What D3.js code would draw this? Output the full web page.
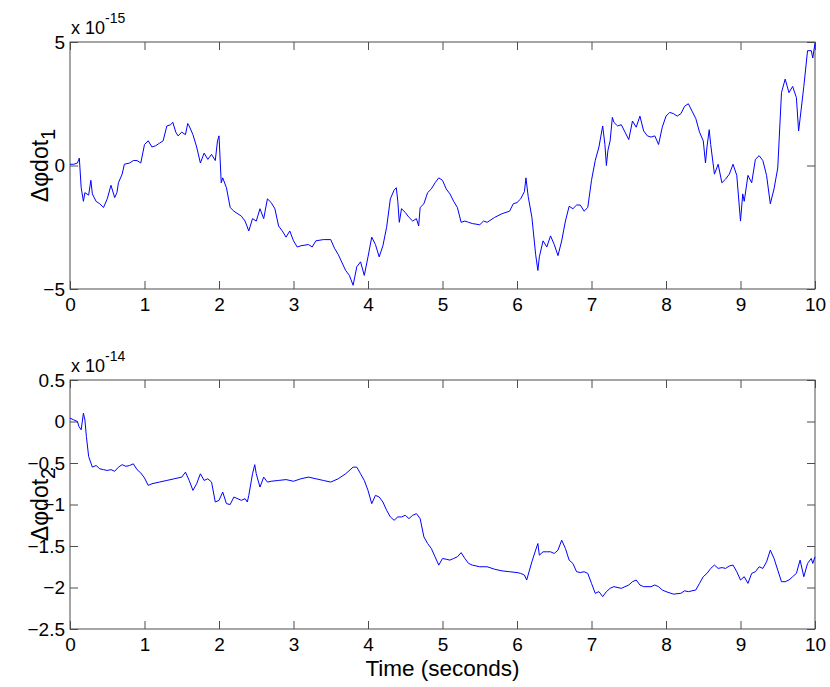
<!DOCTYPE html>
<html>
<head>
<meta charset="utf-8">
<script src="https://cdn.jsdelivr.net/npm/d3@7"></script>
<style>
  body { margin: 0; background: #fff; }
  svg { display: block; font-family: "Liberation Sans", Arial, sans-serif; }
</style>
</head>
<body>
<svg id="chart" width="830" height="687"></svg>
<script>
// time samples (seconds) and values, top panel in units of 1e-15
const time1 = [0, 0.05, 0.1, 0.125, 0.15, 0.18, 0.2, 0.25, 0.28, 0.3, 0.35, 0.4, 0.45, 0.5, 0.55, 0.6, 0.63, 0.65, 0.7, 0.73, 0.8, 0.85, 0.9, 0.95,
  1.0, 1.05, 1.1, 1.15, 1.2, 1.25, 1.3, 1.35, 1.38, 1.42, 1.45, 1.5, 1.55, 1.58, 1.6, 1.65, 1.7, 1.75, 1.8, 1.85, 1.9, 1.95, 1.98,
  2.0, 2.03, 2.05, 2.1, 2.15, 2.2, 2.3, 2.35, 2.4, 2.45, 2.5, 2.55, 2.6, 2.65, 2.7, 2.75, 2.8, 2.85, 2.9, 2.95,
  3.0, 3.05, 3.1, 3.2, 3.25, 3.3, 3.4, 3.5, 3.55, 3.6, 3.7, 3.75, 3.8, 3.85, 3.9, 3.95,
  4.0, 4.05, 4.1, 4.15, 4.2, 4.25, 4.3, 4.35, 4.38, 4.4, 4.42, 4.45, 4.5, 4.55, 4.6, 4.65, 4.68, 4.7, 4.75, 4.8, 4.85, 4.9, 4.95,
  5.0, 5.05, 5.1, 5.15, 5.2, 5.25, 5.3, 5.35, 5.4, 5.5, 5.55, 5.6, 5.7, 5.8, 5.9, 5.95,
  6.0, 6.05, 6.1, 6.12, 6.15, 6.2, 6.25, 6.28, 6.3, 6.35, 6.4, 6.45, 6.5, 6.55, 6.6, 6.65, 6.7, 6.75, 6.8, 6.85, 6.9, 6.95,
  7.0, 7.05, 7.1, 7.15, 7.18, 7.2, 7.22, 7.25, 7.28, 7.3, 7.35, 7.4, 7.45, 7.5, 7.55, 7.6, 7.65, 7.7, 7.75, 7.8, 7.85, 7.9, 7.95,
  8.0, 8.05, 8.1, 8.15, 8.2, 8.25, 8.3, 8.35, 8.4, 8.45, 8.5, 8.53, 8.55, 8.58, 8.6, 8.65, 8.7, 8.75, 8.8, 8.85, 8.9, 8.95,
  9.0, 9.03, 9.05, 9.1, 9.15, 9.2, 9.25, 9.3, 9.35, 9.4, 9.45, 9.5, 9.55, 9.6, 9.65, 9.7, 9.75, 9.78, 9.8, 9.85, 9.9, 9.95, 9.97, 10.0];
const dphi1 = [0.05, 0.05, 0.1, 0.3, -0.9, -1.45, -1.1, -1.2, -0.6, -1.15, -1.45, -1.55, -1.7, -1.35, -0.8, -1.3, -1.1, -0.7, -0.35, 0.05, 0.1, 0.2, 0.2, 0.1,
  0.85, 1.0, 0.75, 0.8, 0.9, 1.0, 1.6, 1.65, 1.75, 1.35, 1.2, 1.35, 1.25, 1.7, 1.6, 1.25, 0.75, 0.1, 0.5, 0.25, 0.45, 0.2, 1.0,
  1.2, -0.7, -0.5, -0.9, -1.7, -1.85, -2.05, -2.25, -2.65, -2.15, -2.25, -1.75, -2.15, -1.35, -1.5, -1.75, -2.45, -2.65, -2.9, -2.65,
  -3.05, -3.3, -3.25, -3.2, -3.3, -3.05, -3.0, -3.0, -3.35, -3.6, -4.25, -4.45, -4.85, -4.1, -3.9, -4.45,
  -3.7, -2.9, -3.2, -3.7, -3.25, -2.5, -1.35, -1.0, -0.9, -1.45, -2.3, -1.75, -1.9, -2.1, -2.25, -2.15, -2.45, -1.7, -1.55, -1.1, -0.95, -0.7, -0.5,
  -0.6, -0.95, -1.15, -1.45, -1.7, -2.3, -2.25, -2.3, -2.35, -2.4, -2.25, -2.3, -2.1, -1.95, -1.85, -1.55,
  -1.5, -1.35, -1.05, -0.5, -1.25, -2.1, -3.6, -4.25, -3.7, -3.05, -3.3, -2.85, -3.2, -3.65, -3.05, -2.25, -1.65, -1.75, -1.6, -1.6, -1.85, -1.7,
  -0.6, 0.2, 0.75, 1.6, 0.85, 0.0, 0.6, 1.0, 1.95, 1.75, 1.6, 1.65, 1.35, 1.05, 1.8, 1.55, 2.0, 1.4, 1.2, 1.15, 1.2, 0.85, 1.55,
  2.0, 2.15, 2.1, 2.0, 2.1, 2.4, 2.5, 2.2, 1.9, 1.35, 1.0, 0.1, 0.75, 1.45, 0.85, -0.35, 0.05, -0.7, -0.55, -0.35, 0.05, -0.4,
  -2.25, -1.15, -1.45, -0.4, -0.7, 0.25, 0.4, 0.2, -0.4, -1.55, -0.95, -0.1, 2.95, 3.5, 2.95, 3.2, 2.75, 1.4, 1.9, 3.2, 4.65, 4.65, 4.35, 4.95];

// bottom panel in units of 1e-14
const time2 = [0, 0.05, 0.1, 0.12, 0.15, 0.18, 0.2, 0.22, 0.25, 0.3, 0.35, 0.4, 0.45, 0.5, 0.55, 0.6, 0.65, 0.7, 0.75, 0.8, 0.85, 0.9, 0.95,
  1.0, 1.05, 1.1, 1.2, 1.3, 1.4, 1.5, 1.55, 1.6, 1.65, 1.7, 1.75, 1.8, 1.85, 1.9, 1.95,
  2.0, 2.05, 2.1, 2.15, 2.2, 2.3, 2.35, 2.38, 2.4, 2.45, 2.48, 2.5, 2.55, 2.6, 2.65, 2.7, 2.8, 2.9,
  3.0, 3.1, 3.2, 3.3, 3.4, 3.5, 3.6, 3.7, 3.8, 3.85, 3.9, 3.95,
  4.0, 4.05, 4.1, 4.15, 4.2, 4.25, 4.3, 4.35, 4.4, 4.45, 4.5, 4.55, 4.6, 4.65, 4.7, 4.75, 4.8, 4.85, 4.9, 4.95,
  5.0, 5.05, 5.1, 5.15, 5.2, 5.25, 5.3, 5.35, 5.4, 5.5, 5.6, 5.7, 5.8, 5.9,
  6.0, 6.05, 6.1, 6.13, 6.2, 6.25, 6.28, 6.3, 6.35, 6.4, 6.45, 6.5, 6.55, 6.6, 6.65, 6.7, 6.75, 6.8, 6.85, 6.9, 6.95,
  7.0, 7.05, 7.1, 7.15, 7.2, 7.25, 7.3, 7.4, 7.45, 7.5, 7.55, 7.6, 7.65, 7.7, 7.8, 7.85, 7.9, 7.95,
  8.0, 8.1, 8.2, 8.25, 8.3, 8.4, 8.45, 8.5, 8.55, 8.6, 8.65, 8.7, 8.75, 8.8, 8.85, 8.9, 8.95,
  9.0, 9.05, 9.1, 9.15, 9.2, 9.25, 9.3, 9.35, 9.4, 9.45, 9.5, 9.55, 9.6, 9.65, 9.7, 9.75, 9.8, 9.85, 9.9, 9.95, 9.97, 10.0];
const dphi2 = [0.04, 0.02, 0.0, -0.06, -0.1, 0.1, 0.02, -0.18, -0.42, -0.55, -0.53, -0.57, -0.58, -0.59, -0.58, -0.6, -0.55, -0.52, -0.54, -0.53, -0.51, -0.58, -0.62,
  -0.68, -0.77, -0.75, -0.73, -0.71, -0.69, -0.67, -0.61, -0.71, -0.83, -0.75, -0.63, -0.71, -0.69, -0.73, -0.97,
  -0.95, -0.85, -0.99, -1.0, -0.91, -0.95, -0.93, -0.97, -0.89, -0.63, -0.52, -0.63, -0.79, -0.67, -0.73, -0.72, -0.71, -0.7,
  -0.72, -0.69, -0.67, -0.69, -0.71, -0.73, -0.69, -0.63, -0.55, -0.55, -0.63, -0.71,
  -0.83, -0.99, -0.89, -0.91, -0.97, -1.07, -1.15, -1.19, -1.15, -1.15, -1.13, -1.17, -1.13, -1.11, -1.17, -1.39, -1.47, -1.53, -1.63, -1.73,
  -1.65, -1.66, -1.67, -1.65, -1.63, -1.58, -1.65, -1.71, -1.73, -1.75, -1.75, -1.78, -1.8, -1.81,
  -1.82, -1.83, -1.85, -1.91, -1.69, -1.55, -1.47, -1.61, -1.57, -1.57, -1.57, -1.59, -1.55, -1.43, -1.53, -1.67, -1.71, -1.81, -1.82, -1.81, -1.83,
  -1.95, -2.07, -2.05, -2.11, -2.05, -2.01, -1.99, -2.01, -1.99, -1.97, -1.93, -1.91, -1.97, -1.99, -1.99, -1.97, -1.99, -2.03,
  -2.05, -2.08, -2.07, -2.04, -2.05, -2.03, -1.95, -1.87, -1.83, -1.77, -1.73, -1.77, -1.76, -1.77, -1.74, -1.73, -1.81,
  -1.91, -1.87, -1.95, -1.83, -1.81, -1.75, -1.77, -1.69, -1.55, -1.65, -1.79, -1.93, -1.93, -1.91, -1.87, -1.83, -1.67, -1.87, -1.71, -1.65, -1.71, -1.63];

const xTicks = [0, 1, 2, 3, 4, 5, 6, 7, 8, 9, 10];
const yTicks1 = [-5, 0, 5];
const yTicks2 = [-2.5, -2, -1.5, -1, -0.5, 0, 0.5];

const svg = d3.select("#chart");
const left = 70, right = 815;
const axisColor = "#4d4d4d";

function drawPanel(times, values, yDomain, yTicks, box, exponent, sub, showXLabel) {
    const x = d3.scaleLinear().domain([0, 10]).range([left, right]);
    const y = d3.scaleLinear().domain(yDomain).range([box.bottom, box.top]);
    const g = svg.append("g");

    // inward ticks on all four sides, like a boxed matlab axes
    const bottomAxis = g.append("g")
        .attr("transform", `translate(0,${box.bottom})`)
        .call(d3.axisBottom(x).tickValues(xTicks).tickSize(-8).tickPadding(10).tickFormat(d3.format("d")));
    bottomAxis.selectAll("text").attr("dy", "0.71em").attr("y", 9);
    g.append("g")
        .attr("transform", `translate(0,${box.top})`)
        .call(d3.axisTop(x).tickValues(xTicks).tickSize(-8).tickFormat(""));
    g.append("g")
        .attr("transform", `translate(${left},0)`)
        .call(d3.axisLeft(y).tickValues(yTicks).tickSize(-8).tickPadding(5).tickFormat(d => d3.format("")(d)));
    g.append("g")
        .attr("transform", `translate(${right},0)`)
        .call(d3.axisRight(y).tickValues(yTicks).tickSize(-8).tickFormat(""));

    g.selectAll(".domain").remove();
    g.selectAll(".tick line").attr("stroke", axisColor);
    g.selectAll(".tick text")
        .attr("fill", "#000")
        .style("font-size", "19px")
        .style("font-family", "Liberation Sans, Arial, sans-serif");

    g.append("rect")
        .attr("x", left).attr("y", box.top)
        .attr("width", right - left).attr("height", box.bottom - box.top)
        .attr("fill", "none").attr("stroke", axisColor).attr("stroke-width", 1);

    const line = d3.line().x((d, i) => x(times[i])).y(d => y(d));
    g.append("path")
        .datum(values)
        .attr("d", line)
        .attr("fill", "none")
        .attr("stroke", "#0000ff")
        .attr("stroke-width", 1);

    // exponent label
    const ex = g.append("text")
        .attr("x", left + 1)
        .attr("y", box.top - 8)
        .style("font-size", "18px");
    ex.append("tspan").text("x 10");
    ex.append("tspan").attr("dy", -11).style("font-size", "14px").text(exponent);

    // y label
    const yl = g.append("text")
        .attr("transform", `translate(48,${(box.top + box.bottom) / 2}) rotate(-90)`)
        .attr("text-anchor", "middle")
        .style("font-size", "23px");
    yl.append("tspan").text("\u0394\u03c6dot");
    yl.append("tspan").attr("dy", 7).style("font-size", "20px").text(sub);

    if (showXLabel) {
        g.append("text")
            .attr("x", (left + right) / 2)
            .attr("y", 676)
            .attr("text-anchor", "middle")
            .style("font-size", "22.5px")
            .text("Time (seconds)");
    }
}

drawPanel(time1, dphi1, [-5, 5], yTicks1, { top: 42, bottom: 289 }, "-15", "1", false);
drawPanel(time2, dphi2, [-2.5, 0.5], yTicks2, { top: 380, bottom: 629 }, "-14", "2", true);
</script>
</body>
</html>
